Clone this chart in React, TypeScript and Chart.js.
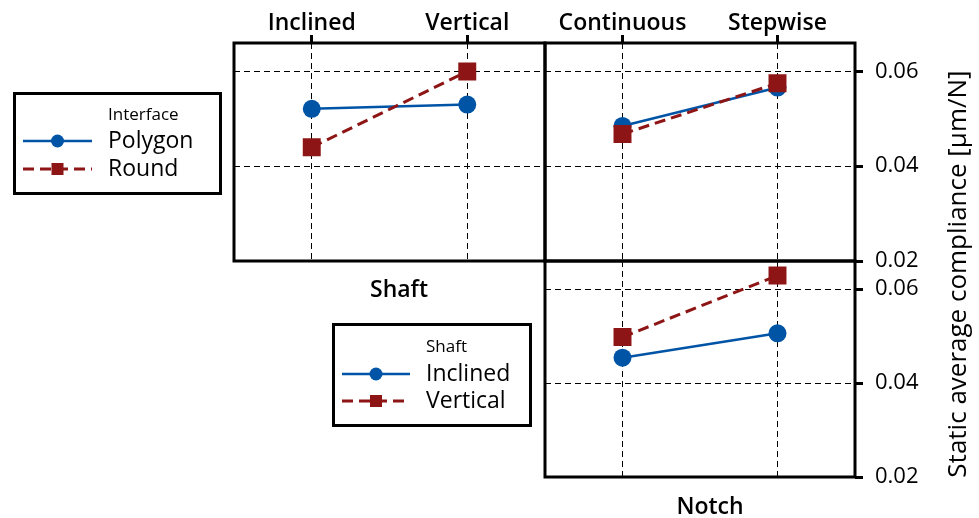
import React, { useEffect, useRef } from 'react';
import { Chart, registerables } from 'chart.js';
Chart.register(...registerables);

// ---- data ----
const shaftCats = ['Inclined', 'Vertical'];
const notchCats = ['Continuous', 'Stepwise'];
const interfaceNames = ['Polygon', 'Round'];
const shaftNames = ['Inclined', 'Vertical'];
// Top-left: compliance vs Shaft, by Interface
const shaftPolygon = [0.0521, 0.053];
const shaftRound = [0.044, 0.06];
// Top-right: compliance vs Notch, by Interface
const notchPolygon = [0.0485, 0.0566];
const notchRound = [0.0468, 0.0575];
// Bottom-right: compliance vs Notch, by Shaft
const notchInclined = [0.0454, 0.0506];
const notchVertical = [0.0498, 0.0629];
const yTicks = [0.02, 0.04, 0.06];
const yMin = 0.02;
const yMax = 0.066;

const BLUE = '#0054a6';
const RED = '#8e1515';
const FONT = "'Open Sans', 'DejaVu Sans', sans-serif";
const W = 979;
const H = 518;

const framePlugin = {
  id: 'frame',
  afterDraw(chart: any) {
    const a = chart.chartArea;
    const ctx = chart.ctx;
    ctx.save();
    ctx.strokeStyle = '#000';
    ctx.lineWidth = 3;
    ctx.strokeRect(a.left, a.top, a.right - a.left, a.bottom - a.top);
    ctx.restore();
  },
};

type Area = { left: number; top: number; right: number; bottom: number };

function makeConfig(
  labels: string[],
  blue: number[],
  red: number[],
  names: string[],
  area: Area,
  showTop: boolean,
  showRight: boolean
): any {
  return {
    type: 'line',
    data: {
      labels,
      datasets: [
        {
          label: names[0],
          data: blue,
          borderColor: BLUE,
          backgroundColor: BLUE,
          borderWidth: 2.5,
          pointStyle: 'circle',
          pointRadius: 9,
          pointBorderWidth: 0,
          order: 2,
        },
        {
          label: names[1],
          data: red,
          borderColor: RED,
          backgroundColor: RED,
          borderWidth: 3,
          borderDash: [11, 6],
          pointStyle: 'rect',
          pointRadius: 12.7,
          pointBorderWidth: 0,
          order: 1,
        },
      ],
    },
    options: {
      responsive: false,
      animation: false,
      devicePixelRatio: 1,
      events: [],
      layout: {
        padding: {
          left: area.left,
          right: showRight ? 0 : W - area.right,
          top: showTop ? 0 : area.top,
          bottom: H - area.bottom,
        },
      },
      plugins: { legend: { display: false }, tooltip: { enabled: false } },
      scales: {
        x: {
          type: 'category',
          position: 'top',
          offset: true,
          grid: {
            offset: false,
            color: '#000',
            lineWidth: 1,
            drawTicks: showTop,
            tickLength: 8,
            tickWidth: 3,
            tickColor: '#000',
          },
          border: { display: false, dash: [6, 4] },
          ticks: {
            display: showTop,
            color: '#000',
            padding: -2,
            maxRotation: 0,
            autoSkip: false,
            font: { family: FONT, size: 23, weight: '600' },
          },
          afterFit: (s: any) => {
            s.height = showTop ? area.top : 0;
          },
        },
        y: {
          type: 'linear',
          position: showRight ? 'right' : 'left',
          min: yMin,
          max: yMax,
          afterBuildTicks: (s: any) => {
            s.ticks = yTicks.map((v) => ({ value: v }));
          },
          grid: {
            color: '#000',
            lineWidth: 1,
            drawTicks: showRight,
            tickLength: 8,
            tickWidth: 3,
            tickColor: '#000',
          },
          border: { display: false, dash: [6, 4] },
          ticks: {
            display: showRight,
            color: '#000',
            padding: 12,
            callback: (v: any) => Number(v).toFixed(2),
            font: { family: FONT, size: 22, weight: '400' },
          },
          afterFit: (s: any) => {
            s.width = showRight ? W - area.right : 0;
          },
        },
      },
    },
    plugins: [framePlugin],
  };
}

const abs: React.CSSProperties = { position: 'absolute', left: 0, top: 0 };

function txt(x: number, y: number, size: number, weight: number): React.CSSProperties {
  return {
    position: 'absolute',
    left: x,
    top: y,
    fontFamily: FONT,
    fontSize: size,
    fontWeight: weight,
    lineHeight: 1,
    color: '#000',
    whiteSpace: 'nowrap',
  };
}

function Legend(props: {
  left: number;
  top: number;
  width: number;
  height: number;
  title: string;
  names: string[];
  textX: number;
  rows: number[];
  titleY: number;
  lineX0: number;
  lineX1: number;
}) {
  const { left, top, width, height, title, names, textX, rows, titleY, lineX0, lineX1 } = props;
  const mid = (lineX0 + lineX1) / 2;
  return (
    <div style={{ position: 'absolute', left: 0, top: 0, width: W, height: H, pointerEvents: 'none' }}>
      <div
        style={{
          position: 'absolute',
          left,
          top,
          width,
          height,
          border: '3px solid #000',
          boxSizing: 'border-box',
          background: '#fff',
        }}
      />
      <svg width={W} height={H} style={abs}>
        <line x1={lineX0} x2={lineX1} y1={rows[0] + 2} y2={rows[0] + 2} stroke={BLUE} strokeWidth={2.5} />
        <circle cx={mid} cy={rows[0] + 2} r={6.5} fill={BLUE} />
        <line
          x1={lineX0}
          x2={lineX1}
          y1={rows[1] + 2}
          y2={rows[1] + 2}
          stroke={RED}
          strokeWidth={3}
          strokeDasharray="11 6"
        />
        <rect x={mid - 6} y={rows[1] + 2 - 6} width={12} height={12} fill={RED} />
      </svg>
      <div style={{ ...txt(textX, titleY, 17, 500), transform: 'translateY(-50%)' }}>{title}</div>
      <div style={{ ...txt(textX, rows[0], 23, 500), transform: 'translateY(-50%)' }}>{names[0]}</div>
      <div style={{ ...txt(textX, rows[1], 23, 500), transform: 'translateY(-50%)' }}>{names[1]}</div>
    </div>
  );
}

export default function App() {
  const r1 = useRef<HTMLCanvasElement>(null);
  const r2 = useRef<HTMLCanvasElement>(null);
  const r3 = useRef<HTMLCanvasElement>(null);

  useEffect(() => {
    document.body.style.margin = '0';
    const c1 = new Chart(
      r1.current!,
      makeConfig(shaftCats, shaftPolygon, shaftRound, interfaceNames, { left: 234, top: 43, right: 545, bottom: 261 }, true, false)
    );
    const c2 = new Chart(
      r2.current!,
      makeConfig(notchCats, notchPolygon, notchRound, interfaceNames, { left: 545, top: 43, right: 855, bottom: 261 }, true, true)
    );
    const c3 = new Chart(
      r3.current!,
      makeConfig(notchCats, notchInclined, notchVertical, shaftNames, { left: 545, top: 261, right: 855, bottom: 477 }, false, true)
    );
    return () => {
      c1.destroy();
      c2.destroy();
      c3.destroy();
    };
  }, []);

  return (
    <div style={{ position: 'relative', width: W, height: H, background: '#fff', overflow: 'hidden' }}>
      <canvas ref={r1} width={W} height={H} style={abs} />
      <canvas ref={r2} width={W} height={H} style={abs} />
      <canvas ref={r3} width={W} height={H} style={abs} />
      <div style={{ ...txt(399, 288, 23, 600), transform: 'translate(-50%, -50%)' }}>Shaft</div>
      <div style={{ ...txt(710, 505, 23, 600), transform: 'translate(-50%, -50%)' }}>Notch</div>
      <div
        style={{
          ...txt(956, 274, 26, 500),
          transform: 'translate(-50%, -50%) rotate(-90deg)',
        }}
      >
        Static average compliance [µm/N]
      </div>
      <Legend
        left={13}
        top={92}
        width={209}
        height={103}
        title="Interface"
        names={interfaceNames}
        textX={108}
        titleY={113}
        rows={[139, 167]}
        lineX0={23}
        lineX1={92}
      />
      <Legend
        left={332}
        top={323}
        width={200}
        height={104}
        title="Shaft"
        names={shaftNames}
        textX={426}
        titleY={345}
        rows={[372, 399]}
        lineX0={342}
        lineX1={410}
      />
    </div>
  );
}
